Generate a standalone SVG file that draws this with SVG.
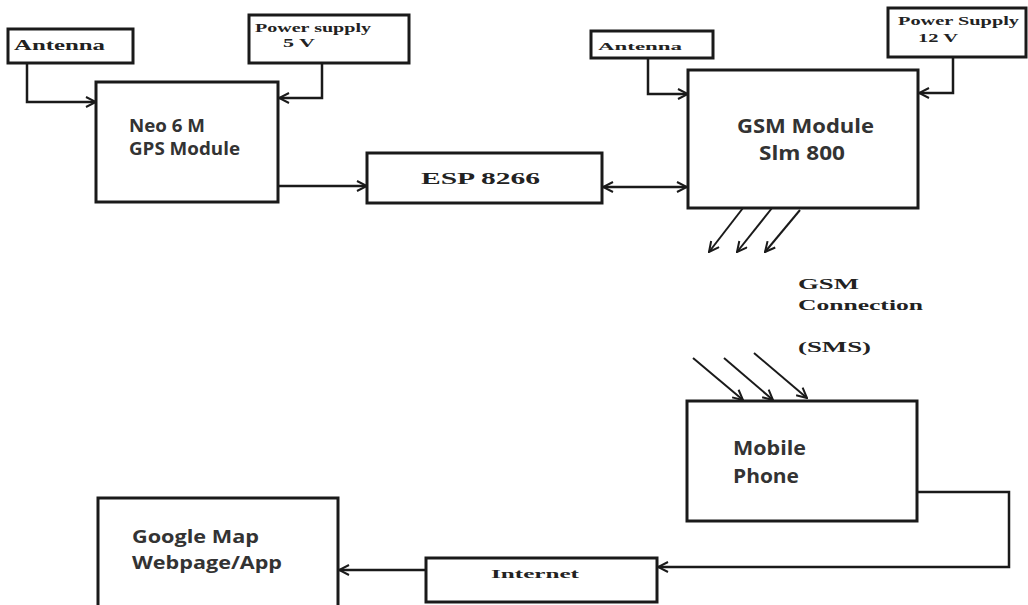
<svg xmlns="http://www.w3.org/2000/svg" width="1028" height="605" viewBox="0 0 1028 605">
  <style>
    .box { fill: #ffffff; stroke: #1a1a1a; stroke-width: 3; }
    .conn { fill: none; stroke: #1a1a1a; stroke-width: 2.5; }
    .ray { fill: none; stroke: #1a1a1a; stroke-width: 2; }
    .sans { font-family: "Open Sans", "Liberation Sans", sans-serif; font-weight: 700; fill: #333333; }
    .serif { font-family: "Liberation Serif", "Times New Roman", serif; font-weight: bold; fill: #222222; }
  </style>
  <defs>
    <marker id="arr" viewBox="0 0 12 12" refX="11" refY="6" markerWidth="12" markerHeight="12" markerUnits="userSpaceOnUse" orient="auto-start-reverse">
      <path d="M1,1 L11,6 L1,11" fill="none" stroke="#1a1a1a" stroke-width="2"/>
    </marker>
  </defs>
  <rect width="1028" height="605" fill="#ffffff"/>

  <g id="connectors">
    <path class="conn" d="M27,63 V102 H96" marker-end="url(#arr)"/>
    <path class="conn" d="M322,63 V98 H279" marker-end="url(#arr)"/>
    <path class="conn" d="M278,186 H367" marker-end="url(#arr)"/>
    <path class="conn" d="M603,187 H687" marker-start="url(#arr)" marker-end="url(#arr)"/>
    <path class="conn" d="M648,58 V94 H688" marker-end="url(#arr)"/>
    <path class="conn" d="M953,57 V93 H919" marker-end="url(#arr)"/>
    <path class="ray" d="M743,208 L709,252" marker-end="url(#arr)"/>
    <path class="ray" d="M772,208 L737,252" marker-end="url(#arr)"/>
    <path class="ray" d="M800,210 L765,252" marker-end="url(#arr)"/>
    <path class="ray" d="M693,358 L743,400" marker-end="url(#arr)"/>
    <path class="ray" d="M724,358 L773,400" marker-end="url(#arr)"/>
    <path class="ray" d="M754,353 L807,398" marker-end="url(#arr)"/>
    <path class="conn" d="M917,492 H1009 V567 H658" marker-end="url(#arr)"/>
    <path class="conn" d="M426,570 H339" marker-end="url(#arr)"/>
  </g>

  <g id="antenna-gps">
    <rect class="box" x="8" y="29" width="125" height="34"/>
    <text class="serif" x="14" y="50" font-size="15" textLength="91" lengthAdjust="spacingAndGlyphs">Antenna</text>
  </g>
  <g id="power-5v">
    <rect class="box" x="249" y="15" width="160" height="48"/>
    <text class="serif" x="255" y="32" font-size="12" textLength="116" lengthAdjust="spacingAndGlyphs">Power supply</text>
    <text class="serif" x="283" y="47" font-size="12" textLength="32" lengthAdjust="spacingAndGlyphs">5 V</text>
  </g>
  <g id="gps-module">
    <rect class="box" x="96" y="82" width="182" height="120"/>
    <text class="sans" x="129" y="132" font-size="18" textLength="76" lengthAdjust="spacingAndGlyphs">Neo 6 M</text>
    <text class="sans" x="129" y="155" font-size="18" textLength="111" lengthAdjust="spacingAndGlyphs">GPS Module</text>
  </g>
  <g id="esp8266">
    <rect class="box" x="367" y="153" width="235" height="50"/>
    <text class="serif" x="421" y="184" font-size="16" textLength="119" lengthAdjust="spacingAndGlyphs">ESP 8266</text>
  </g>
  <g id="antenna-gsm">
    <rect class="box" x="591" y="31" width="122" height="27"/>
    <text class="serif" x="598" y="50" font-size="11" textLength="84" lengthAdjust="spacingAndGlyphs">Antenna</text>
  </g>
  <g id="power-12v">
    <rect class="box" x="888" y="8" width="138" height="49"/>
    <text class="serif" x="898" y="25" font-size="13" textLength="121" lengthAdjust="spacingAndGlyphs">Power Supply</text>
    <text class="serif" x="918" y="42" font-size="13" textLength="40" lengthAdjust="spacingAndGlyphs">12 V</text>
  </g>
  <g id="gsm-module">
    <rect class="box" x="688" y="70" width="230" height="138"/>
    <text class="sans" x="737" y="133" font-size="20" textLength="137" lengthAdjust="spacingAndGlyphs">GSM Module</text>
    <text class="sans" x="759" y="160" font-size="20" textLength="86" lengthAdjust="spacingAndGlyphs">Slm 800</text>
  </g>
  <g id="gsm-connection-label">
    <text class="serif" x="798" y="289" font-size="15" textLength="61" lengthAdjust="spacingAndGlyphs">GSM</text>
    <text class="serif" x="798" y="310" font-size="15" textLength="125" lengthAdjust="spacingAndGlyphs">Connection</text>
    <text class="serif" x="798" y="352" font-size="15" textLength="73" lengthAdjust="spacingAndGlyphs">(SMS)</text>
  </g>
  <g id="mobile-phone">
    <rect class="box" x="687" y="401" width="230" height="120"/>
    <text class="sans" x="733" y="455" font-size="19" textLength="73" lengthAdjust="spacingAndGlyphs">Mobile</text>
    <text class="sans" x="733" y="483" font-size="19" textLength="66" lengthAdjust="spacingAndGlyphs">Phone</text>
  </g>
  <g id="internet">
    <rect class="box" x="426" y="558" width="231" height="44"/>
    <text class="serif" x="491" y="578" font-size="13" textLength="88" lengthAdjust="spacingAndGlyphs">Internet</text>
  </g>
  <g id="google-map">
    <rect class="box" x="98" y="498" width="240" height="112"/>
    <text class="sans" x="132" y="543" font-size="18" textLength="127" lengthAdjust="spacingAndGlyphs">Google Map</text>
    <text class="sans" x="132" y="569" font-size="18" textLength="150" lengthAdjust="spacingAndGlyphs">Webpage/App</text>
  </g>
</svg>
